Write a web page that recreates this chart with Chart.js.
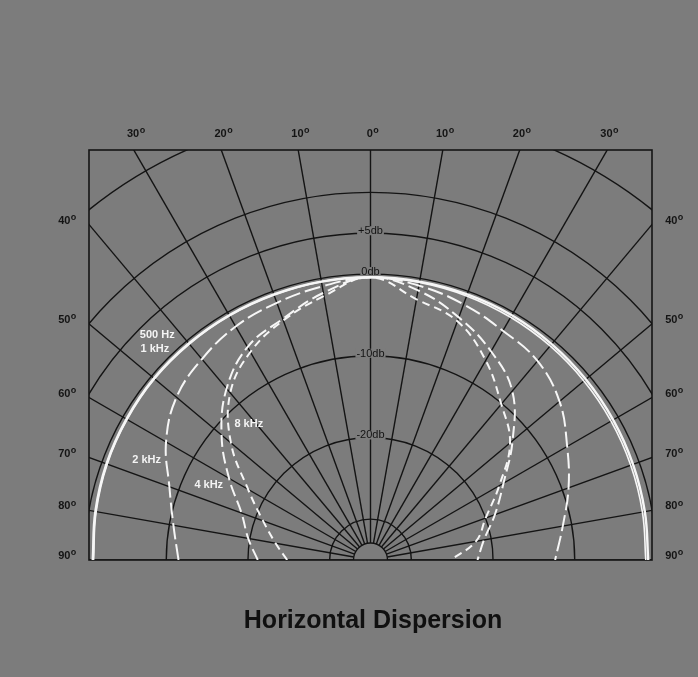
<!DOCTYPE html>
<html>
<head>
<meta charset="utf-8">
<script src="https://cdn.jsdelivr.net/npm/chart.js@4.4.0/dist/chart.umd.min.js"></script>
<style>
  html, body { margin: 0; padding: 0; background: #7c7c7c; }
  #wrap { width: 698px; height: 677px; }
</style>
</head>
<body>
<div id="wrap"><canvas id="dispersion" width="698" height="677"></canvas></div>
<script>
// angle off axis in degrees (negative = left side), level in dB re. on-axis
var angles = [-90, -80, -70, -60, -50, -40, -30, -20, -10, 0, 10, 20, 30, 40, 50, 60, 70, 80, 90]
var hz500 = [-1.0, -0.8, -0.6, -0.5, -0.4, -0.4, -0.4, -0.4, -0.4, -0.4, -0.4, -0.4, -0.4, -0.5, -0.6, -0.7, -0.8, -0.9, -1.0]
var khz1 = [-1.1, -0.9, -0.7, -0.6, -0.5, -0.5, -0.5, -0.5, -0.4, -0.4, -0.5, -0.6, -0.7, -0.8, -0.9, -1.0, -1.1, -1.2, -1.3]
var khz2 = [-11.5, -10.5, -8.8, -6.1, -4.0, -2.9, -2.0, -1.5, -1.0, -0.4, -0.9, -1.7, -2.6, -3.2, -4.8, -7.2, -9.2, -11.1, -12.4]
var khz4 = [-21.2, -19.8, -18.2, -15.0, -11.2, -7.6, -4.9, -3.6, -1.8, -0.4, -1.5, -3.4, -5.5, -8.0, -12.3, -16.2, -18.8, -20.9, -21.9]
var khz8 = [-24.8, -23.2, -21.0, -17.7, -12.7, -8.3, -5.6, -3.8, -2.2, -0.4, -2.6, -3.9, -6.8, -10.1, -12.7, -16.8, -20.0, -21.9, -25.2]

// grid
var ringLevels = [-30, -20, -10, 0, 5, 10, 20]
var ringLabels = ['', '-20db', '-10db', '0db', '+5db', '', '']
var spokeAngles = [-90, -80, -70, -60, -50, -40, -30, -20, -10, 0, 10, 20, 30, 40, 50, 60, 70, 80, 90]
var topTicks = [-30, -20, -10, 0, 10, 20, 30]
var sideTicks = [40, 50, 60, 70, 80, 90]

var floorDb = -35   // level that sits at the centre of the plot

function toXY(angle, level) {
  var r = level - floorDb
  var t = angle * Math.PI / 180
  return { x: r * Math.sin(t), y: r * Math.cos(t) }
}

function curve(levels) {
  return angles.map(function (a, i) { return toXY(a, levels[i]) })
}

// curve captions, placed in plot units
var curveLabels = [
  { text: '500 Hz', x: -26.1, y: 27.5 },
  { text: '1 kHz', x: -26.4, y: 25.8 },
  { text: '2 kHz', x: -27.4, y: 12.2 },
  { text: '4 kHz', x: -19.8, y: 9.2 },
  { text: '8 kHz', x: -14.9, y: 16.6 }
]

var ink = '#141414'
var paper = '#7c7c7c'
var font = '"Liberation Sans", Arial, sans-serif'

var polarGrid = {
  id: 'polarGrid',
  beforeDatasetsDraw: function (chart) {
    var ctx = chart.ctx, a = chart.chartArea
    var xs = chart.scales.x, ys = chart.scales.y
    var cx = xs.getPixelForValue(0), cy = ys.getPixelForValue(0)
    var unit = xs.getPixelForValue(1) - cx
    var hub = 17

    ctx.save()
    ctx.beginPath()
    ctx.rect(a.left, a.top, a.right - a.left, a.bottom - a.top)
    ctx.clip()
    ctx.strokeStyle = ink
    ctx.lineWidth = 1.4
    ringLevels.forEach(function (lv) {
      ctx.beginPath()
      ctx.arc(cx, cy, (lv - floorDb) * unit, Math.PI, 2 * Math.PI)
      ctx.stroke()
    })
    ctx.beginPath()
    ctx.arc(cx, cy, hub, Math.PI, 2 * Math.PI)
    ctx.stroke()
    spokeAngles.forEach(function (d) {
      var t = d * Math.PI / 180
      ctx.beginPath()
      ctx.moveTo(cx + hub * Math.sin(t), cy - hub * Math.cos(t))
      ctx.lineTo(cx + 900 * Math.sin(t), cy - 900 * Math.cos(t))
      ctx.stroke()
    })
    ctx.restore()

    ctx.save()
    ctx.strokeStyle = ink
    ctx.lineWidth = 1.6
    ctx.strokeRect(a.left, a.top, a.right - a.left, a.bottom - a.top)

    // db labels sitting on the rings
    ctx.font = '11px ' + font
    ctx.textAlign = 'center'
    ctx.textBaseline = 'middle'
    ringLevels.forEach(function (lv, i) {
      if (!ringLabels[i]) return
      var y = cy - (lv - floorDb) * unit - 2
      var w = ctx.measureText(ringLabels[i]).width
      ctx.fillStyle = paper
      ctx.fillRect(cx - w / 2 - 1, y - 5, w + 2, 9)
      ctx.fillStyle = ink
      ctx.fillText(ringLabels[i], cx, y)
    })

    // angle labels
    function degLabel(txt, x, y) {
      ctx.font = 'bold 11px ' + font
      var w1 = ctx.measureText(txt).width
      ctx.font = 'bold 9px ' + font
      var w2 = ctx.measureText('o').width
      var x0 = x - (w1 + w2) / 2
      ctx.textAlign = 'left'
      ctx.textBaseline = 'middle'
      ctx.fillStyle = ink
      ctx.font = 'bold 11px ' + font
      ctx.fillText(txt, x0, y)
      ctx.font = 'bold 9px ' + font
      ctx.fillText('o', x0 + w1 + 0.5, y - 3)
    }
    topTicks.forEach(function (d) {
      var t = d * Math.PI / 180
      var x = cx + (cy - a.top) * Math.tan(t)
      degLabel(String(Math.abs(d)), x + 2, a.top - 16)
    })
    sideTicks.forEach(function (d) {
      var t = d * Math.PI / 180
      var y = cy - (cx - a.left) / Math.tan(t) - 4
      degLabel(String(d), a.left - 22, y)
      degLabel(String(d), a.right + 22, y)
    })

    // title
    ctx.font = 'bold 25px ' + font
    ctx.textAlign = 'center'
    ctx.textBaseline = 'middle'
    ctx.fillStyle = '#101010'
    ctx.fillText('Horizontal Dispersion', 373, 621)
    ctx.restore()
  },
  afterDatasetsDraw: function (chart) {
    var ctx = chart.ctx
    var xs = chart.scales.x, ys = chart.scales.y
    ctx.save()
    ctx.font = 'bold 11px ' + font
    ctx.textAlign = 'center'
    ctx.textBaseline = 'middle'
    ctx.fillStyle = '#f4f4f4'
    curveLabels.forEach(function (l) {
      ctx.fillText(l.text, xs.getPixelForValue(l.x), ys.getPixelForValue(l.y))
    })
    ctx.restore()
  }
}

function series(label, levels, dash, width) {
  return {
    label: label,
    data: curve(levels),
    showLine: true,
    borderColor: '#f6f6f6',
    borderWidth: width,
    borderDash: dash,
    pointRadius: 0,
    tension: 0.4,
    fill: false
  }
}

new Chart(document.getElementById('dispersion').getContext('2d'), {
  type: 'scatter',
  data: {
    datasets: [
      series('500 Hz', hz500, [], 2.4),
      series('1 kHz', khz1, [], 1.6),
      series('2 kHz', khz2, [16, 5], 2),
      series('4 kHz', khz4, [12, 5], 2),
      series('8 kHz', khz8, [8, 5], 2)
    ]
  },
  options: {
    responsive: false,
    animation: false,
    layout: { padding: { left: 89, right: 46, top: 150, bottom: 117 } },
    scales: {
      x: { type: 'linear', min: -34.46, max: 34.46, display: false },
      y: { type: 'linear', min: 0, max: 50.18, display: false }
    },
    plugins: {
      legend: { display: false },
      tooltip: { enabled: false }
    }
  },
  plugins: [polarGrid]
})
</script>
</body>
</html>
